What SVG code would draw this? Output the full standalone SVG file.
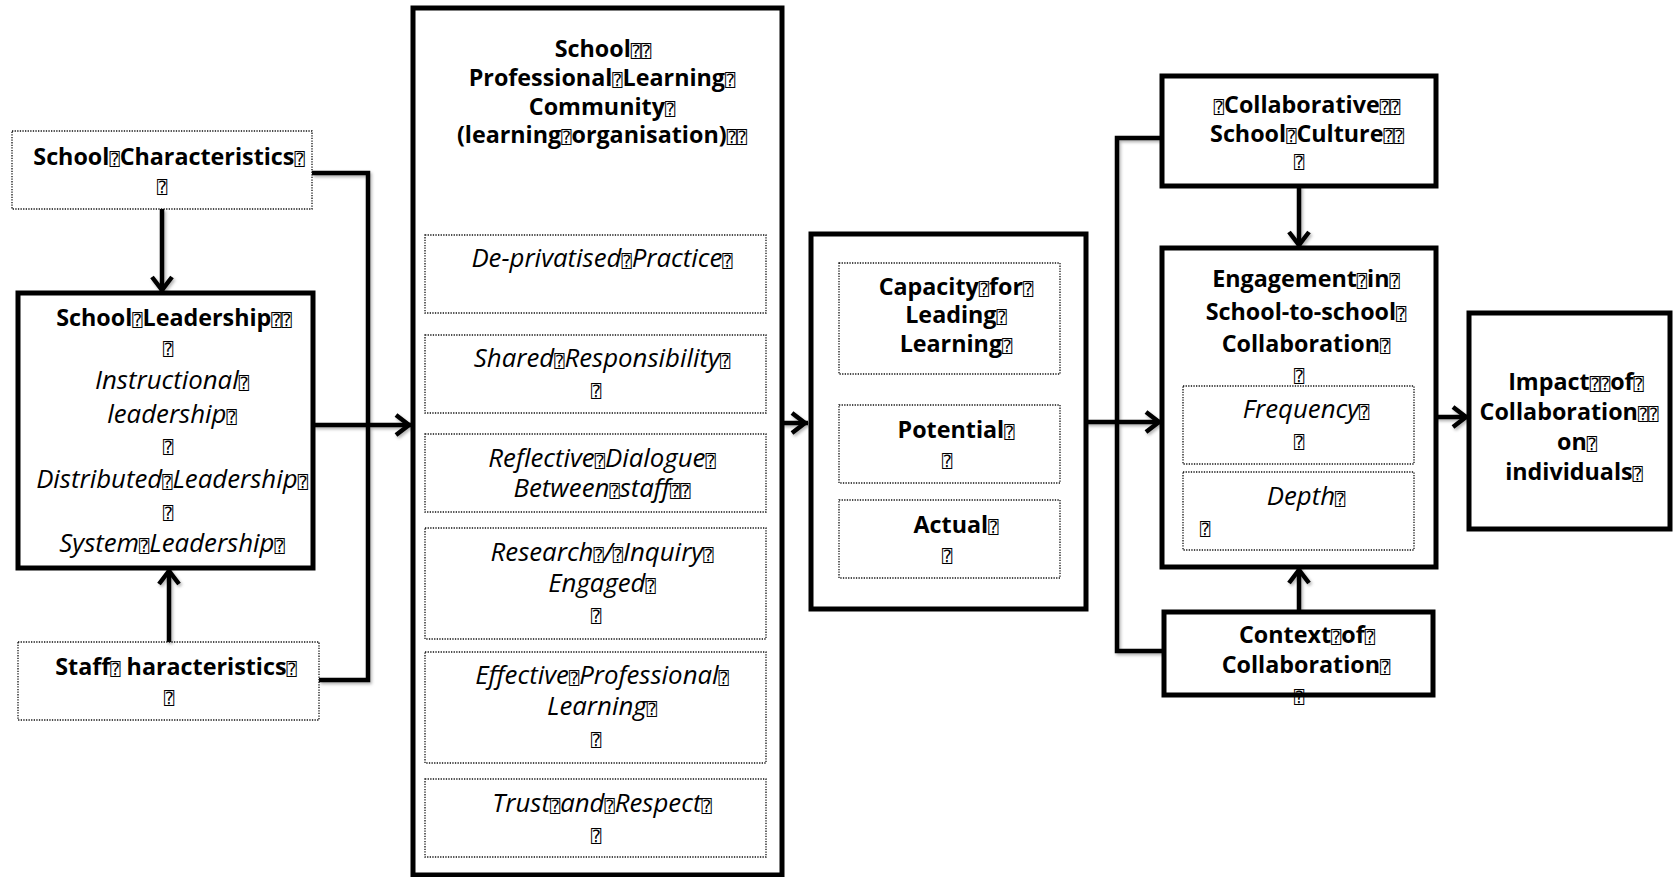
<svg xmlns="http://www.w3.org/2000/svg" width="1676" height="877" viewBox="0 0 1676 877">
  <defs>
    <style>
      .solid { fill: #fff; stroke: #000; stroke-width: 5; }
      .dot { fill: none; stroke: #111; stroke-width: 1.3; stroke-dasharray: 1.3 1.3; }
      .ln { fill: none; stroke: #000; stroke-width: 4.5; }
      text { font-family: "Open Sans", Lato, "Liberation Sans", sans-serif; font-size: 23.3px; fill: #000; text-anchor: middle; }
      .b { font-weight: 700; }
      .i { font-style: italic; font-weight: 400; font-size: 25.8px; }
      .q { font-family: "DejaVu Sans Mono", "DejaVu Sans", monospace; font-size: 17px; font-weight: 400; font-style: normal; }
    </style>
    <marker id="arr" markerUnits="userSpaceOnUse" markerWidth="40" markerHeight="40" viewBox="-20 -20 40 40" refX="3" refY="0" orient="auto">
      <path d="M-13,-10 L0,0 L-13,10" fill="none" stroke="#000" stroke-width="4.5"/>
    </marker>
    <filter id="shade" x="-10%" y="-10%" width="120%" height="120%">
      <feDropShadow dx="1.5" dy="2" stdDeviation="1.5" flood-color="#000" flood-opacity="0.3"/>
    </filter>
  </defs>
  <rect width="1676" height="877" fill="#fff"/>

  <!-- connectors -->
  <g id="connectors" filter="url(#shade)">
    <path class="ln" d="M312,173 H368 V680 H319"/>
    <path class="ln" d="M313,425 H412" marker-end="url(#arr)"/>
    <path class="ln" d="M162,209 V293" marker-end="url(#arr)"/>
    <path class="ln" d="M169,642 V568" marker-end="url(#arr)"/>
    <path class="ln" d="M782,423 H808" marker-end="url(#arr)"/>
    <path class="ln" d="M1086,422 H1162" marker-end="url(#arr)"/>
    <path class="ln" d="M1162,138 H1117 V651 H1164"/>
    <path class="ln" d="M1299,186 V248" marker-end="url(#arr)"/>
    <path class="ln" d="M1299,612 V567" marker-end="url(#arr)"/>
    <path class="ln" d="M1436,417 H1469" marker-end="url(#arr)"/>
  </g>

  <!-- school characteristics -->
  <g id="school-characteristics">
    <rect class="dot" x="12" y="131" width="300" height="78"/>
    <text class="b" x="169" y="165">School<tspan class="q">⍰</tspan>Characteristics<tspan class="q">⍰</tspan></text>
    <text x="162" y="193"><tspan class="q">⍰</tspan></text>
  </g>

  <!-- school leadership -->
  <g id="school-leadership">
    <rect class="solid" x="18" y="293" width="295" height="275"/>
    <text class="b" x="174" y="326">School<tspan class="q">⍰</tspan>Leadership<tspan class="q">⍰⍰</tspan></text>
    <text x="168" y="355"><tspan class="q">⍰</tspan></text>
    <text class="i" x="172" y="389">Instructional<tspan class="q">⍰</tspan></text>
    <text class="i" x="172" y="423">leadership<tspan class="q">⍰</tspan></text>
    <text x="168" y="453"><tspan class="q">⍰</tspan></text>
    <text class="i" x="172" y="488">Distributed<tspan class="q">⍰</tspan>Leadership<tspan class="q">⍰</tspan></text>
    <text x="168" y="519"><tspan class="q">⍰</tspan></text>
    <text class="i" x="172" y="552">System<tspan class="q">⍰</tspan>Leadership<tspan class="q">⍰</tspan></text>
  </g>

  <!-- staff characteristics -->
  <g id="staff-characteristics">
    <rect class="dot" x="18" y="642" width="301" height="78"/>
    <text class="b" x="176" y="675">Staff<tspan class="q">⍰</tspan> haracteristics<tspan class="q">⍰</tspan></text>
    <text x="169" y="704"><tspan class="q">⍰</tspan></text>
  </g>

  <!-- professional learning community -->
  <g id="plc">
    <rect class="solid" x="413" y="8" width="369" height="867"/>
    <text class="b" x="603" y="57">School<tspan class="q">⍰⍰</tspan></text>
    <text class="b" x="602" y="86">Professional<tspan class="q">⍰</tspan>Learning<tspan class="q">⍰</tspan></text>
    <text class="b" x="602" y="115">Community<tspan class="q">⍰</tspan></text>
    <text class="b" x="602" y="143">(learning<tspan class="q">⍰</tspan>organisation)<tspan class="q">⍰⍰</tspan></text>
  </g>
  <g id="plc-deprivatised">
    <rect class="dot" x="425" y="235" width="341" height="78"/>
    <text class="i" x="602" y="267">De-privatised<tspan class="q">⍰</tspan>Practice<tspan class="q">⍰</tspan></text>
  </g>
  <g id="plc-shared">
    <rect class="dot" x="425" y="335" width="341" height="78"/>
    <text class="i" x="602" y="367">Shared<tspan class="q">⍰</tspan>Responsibility<tspan class="q">⍰</tspan></text>
    <text x="596" y="397"><tspan class="q">⍰</tspan></text>
  </g>
  <g id="plc-reflective">
    <rect class="dot" x="425" y="434" width="341" height="78"/>
    <text class="i" x="602" y="467">Reflective<tspan class="q">⍰</tspan>Dialogue<tspan class="q">⍰</tspan></text>
    <text class="i" x="602" y="497">Between<tspan class="q">⍰</tspan>staff<tspan class="q">⍰⍰</tspan></text>
  </g>
  <g id="plc-research">
    <rect class="dot" x="425" y="528" width="341" height="111"/>
    <text class="i" x="602" y="561">Research<tspan class="q">⍰</tspan>/<tspan class="q">⍰</tspan>Inquiry<tspan class="q">⍰</tspan></text>
    <text class="i" x="602" y="592">Engaged<tspan class="q">⍰</tspan></text>
    <text x="596" y="622"><tspan class="q">⍰</tspan></text>
  </g>
  <g id="plc-effective">
    <rect class="dot" x="425" y="652" width="341" height="111"/>
    <text class="i" x="602" y="684">Effective<tspan class="q">⍰</tspan>Professional<tspan class="q">⍰</tspan></text>
    <text class="i" x="602" y="715">Learning<tspan class="q">⍰</tspan></text>
    <text x="596" y="746"><tspan class="q">⍰</tspan></text>
  </g>
  <g id="plc-trust">
    <rect class="dot" x="425" y="779" width="341" height="78"/>
    <text class="i" x="602" y="812">Trust<tspan class="q">⍰</tspan>and<tspan class="q">⍰</tspan>Respect<tspan class="q">⍰</tspan></text>
    <text x="596" y="842"><tspan class="q">⍰</tspan></text>
  </g>

  <!-- capacity for leading learning -->
  <g id="capacity">
    <rect class="solid" x="811" y="234" width="275" height="375"/>
  </g>
  <g id="capacity-title">
    <rect class="dot" x="839" y="263" width="221" height="111"/>
    <text class="b" x="956" y="295">Capacity<tspan class="q">⍰</tspan>for<tspan class="q">⍰</tspan></text>
    <text class="b" x="956" y="323">Leading<tspan class="q">⍰</tspan></text>
    <text class="b" x="956" y="352">Learning<tspan class="q">⍰</tspan></text>
  </g>
  <g id="capacity-potential">
    <rect class="dot" x="839" y="405" width="221" height="78"/>
    <text class="b" x="956" y="438">Potential<tspan class="q">⍰</tspan></text>
    <text x="947" y="467"><tspan class="q">⍰</tspan></text>
  </g>
  <g id="capacity-actual">
    <rect class="dot" x="839" y="500" width="221" height="78"/>
    <text class="b" x="956" y="533">Actual<tspan class="q">⍰</tspan></text>
    <text x="947" y="562"><tspan class="q">⍰</tspan></text>
  </g>

  <!-- collaborative school culture -->
  <g id="culture">
    <rect class="solid" x="1162" y="76" width="274" height="110"/>
    <text class="b" x="1307" y="113"><tspan class="q">⍰</tspan>Collaborative<tspan class="q">⍰⍰</tspan></text>
    <text class="b" x="1307" y="142">School<tspan class="q">⍰</tspan>Culture<tspan class="q">⍰⍰</tspan></text>
    <text x="1299" y="168"><tspan class="q">⍰</tspan></text>
  </g>

  <!-- engagement in school-to-school collaboration -->
  <g id="engagement">
    <rect class="solid" x="1162" y="248" width="274" height="319"/>
    <text class="b" x="1306" y="287">Engagement<tspan class="q">⍰</tspan>in<tspan class="q">⍰</tspan></text>
    <text class="b" x="1306" y="320">School-to-school<tspan class="q">⍰</tspan></text>
    <text class="b" x="1306" y="352">Collaboration<tspan class="q">⍰</tspan></text>
    <text x="1299" y="382"><tspan class="q">⍰</tspan></text>
  </g>
  <g id="engagement-frequency">
    <rect class="dot" x="1183" y="386" width="231" height="78"/>
    <text class="i" x="1306" y="418">Frequency<tspan class="q">⍰</tspan></text>
    <text x="1299" y="448"><tspan class="q">⍰</tspan></text>
  </g>
  <g id="engagement-depth">
    <rect class="dot" x="1183" y="472" width="231" height="78"/>
    <text class="i" x="1306" y="505">Depth<tspan class="q">⍰</tspan></text>
    <text x="1205" y="535"><tspan class="q">⍰</tspan></text>
  </g>

  <!-- context of collaboration -->
  <g id="context">
    <rect class="solid" x="1164" y="612" width="269" height="83"/>
    <text class="b" x="1307" y="643">Context<tspan class="q">⍰</tspan>of<tspan class="q">⍰</tspan></text>
    <text class="b" x="1306" y="673">Collaboration<tspan class="q">⍰</tspan></text>
    <text x="1299" y="703"><tspan class="q">⍰</tspan></text>
  </g>

  <!-- impact of collaboration -->
  <g id="impact">
    <rect class="solid" x="1469" y="313" width="201" height="216"/>
    <text class="b" x="1576" y="390">Impact<tspan class="q">⍰⍰</tspan>of<tspan class="q">⍰</tspan></text>
    <text class="b" x="1569" y="420">Collaboration<tspan class="q">⍰⍰</tspan></text>
    <text class="b" x="1577" y="450">on<tspan class="q">⍰</tspan></text>
    <text class="b" x="1574" y="480">individuals<tspan class="q">⍰</tspan></text>
  </g>
</svg>
